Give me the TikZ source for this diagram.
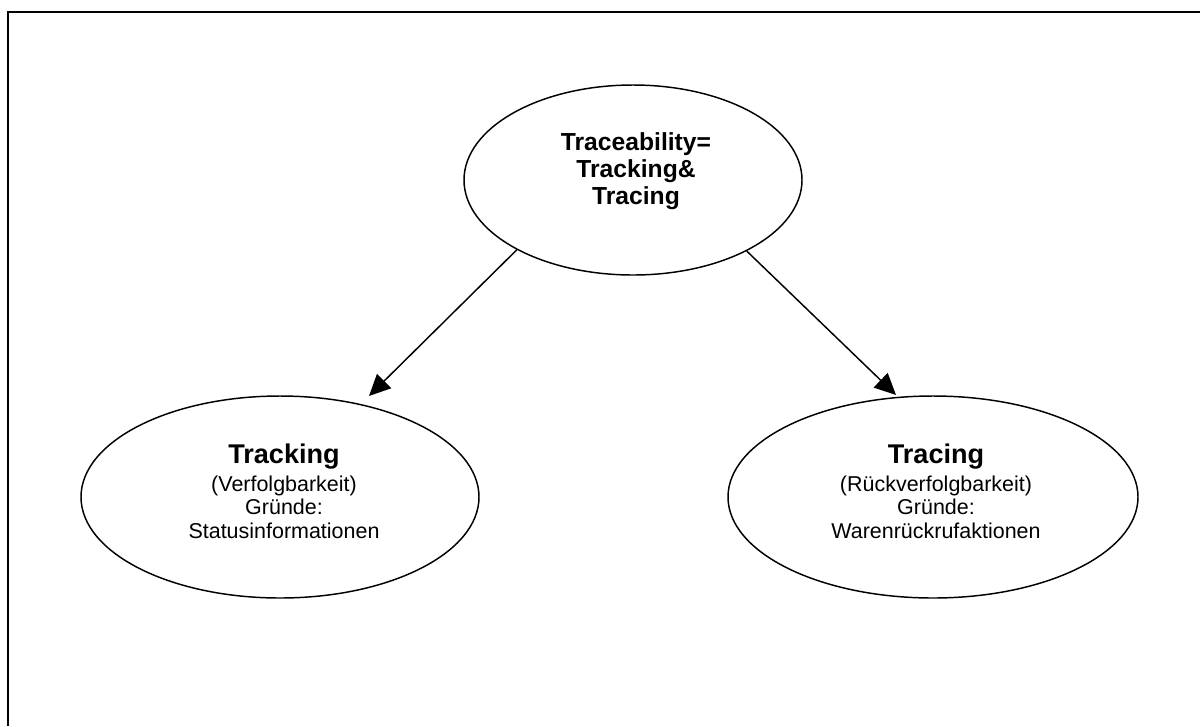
\documentclass[tikz,border=0pt]{standalone}
\usepackage{fontspec}
\setmainfont{Liberation Sans}
\usetikzlibrary{shapes.geometric,arrows.meta}

\tikzset{
  frameline/.style={line width=1.5pt},
  bubble/.style={ellipse, draw, line width=1.1pt, inner sep=0pt},
  caption/.style={align=center, anchor=base, inner sep=0pt},
  arr/.style={line width=1.1pt, -{Triangle[length=16pt,width=15pt]}},
  titlefont/.style={font=\fontsize{18.5}{19.9}\selectfont\bfseries},
  bodyfont/.style={font=\fontsize{16.1}{17.6}\selectfont}
}
\newcommand{\headline}[1]{{\fontsize{20.3}{17.6}\selectfont\bfseries #1}}

\begin{document}
\begin{tikzpicture}[x=0.75pt,y=-0.75pt]
  \useasboundingbox (0,0) rectangle (1200,726);

  % page frame (top and left edges)
  \draw[frameline] (7,11.5) -- (1200,11.5);
  \draw[frameline] (7.5,11) -- (7.5,726);

  % ellipses
  \node[bubble, minimum width=338*0.75pt, minimum height=190*0.75pt] (top) at (633,180) {};
  \node[bubble, minimum width=398*0.75pt, minimum height=202*0.75pt] (left) at (280,497) {};
  \node[bubble, minimum width=410*0.75pt, minimum height=202*0.75pt] (right) at (933,497) {};

  % texts (anchored at the baseline of their last line)
  \node[caption, titlefont] (toptext) at (636,204)
    {Traceability=\\Tracking\&\\Tracing};
  \node[caption, bodyfont] (lefttext) at (284,538)
    {\headline{Tracking}\\[3.4pt]
     (Verfolgbarkeit)\\
     Gründe:\\
     Statusinformationen};
  \node[caption, bodyfont] (righttext) at (936,538)
    {\headline{Tracing}\\[3.4pt]
     (Rückverfolgbarkeit)\\
     Gründe:\\
     Warenrückrufaktionen};

  % arrow ends
  \coordinate (ltip) at (369,396);
  \coordinate (rtip) at (896,395);

  % connectors
  \draw[arr] (top.211) -- (ltip);
  \draw[arr] (top.328.5) -- (rtip);
\end{tikzpicture}
\end{document}
